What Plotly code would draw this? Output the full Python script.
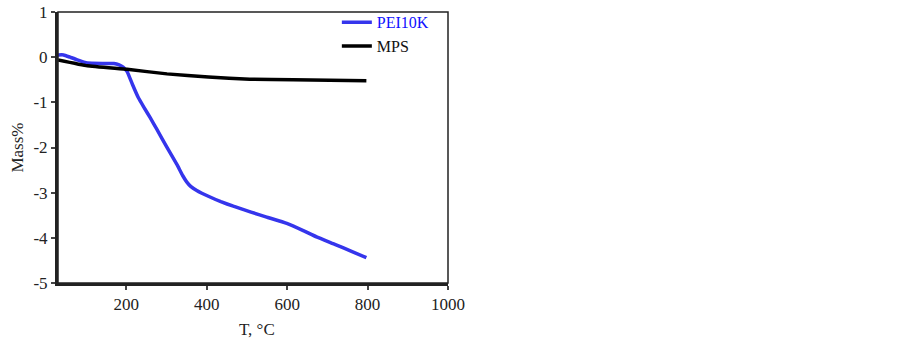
import plotly.graph_objects as go

# Data
pei_T = [30, 44, 60, 78, 103, 140, 169, 182, 192, 202, 215, 230, 243, 260, 276, 300, 326, 340, 350,
         360, 375, 404, 435, 466, 510, 549, 599, 640, 673, 720, 760, 797]
pei_mass = [0.05, 0.05, 0.0, -0.06, -0.13, -0.14, -0.14, -0.17, -0.22, -0.32, -0.6, -0.9, -1.1, -1.35,
            -1.6, -1.98, -2.38, -2.62, -2.76, -2.86, -2.95, -3.08, -3.2, -3.3, -3.43, -3.54, -3.68,
            -3.84, -3.98, -4.15, -4.3, -4.44]
mps_T = [30, 103, 202, 301, 404, 507, 615, 797]
mps_mass = [-0.06, -0.19, -0.27, -0.37, -0.44, -0.49, -0.5, -0.52]

x_ticks = [200, 400, 600, 800, 1000]
y_ticks = [1, 0, -1, -2, -3, -4, -5]
y_tick_text = ["1", "0", "-1", "-2", "-3", "-4", "-5"]

FONT = "Liberation Serif, Times New Roman, serif"

fig = go.Figure()
fig.add_trace(go.Scatter(x=pei_T, y=pei_mass, mode="lines",
                         name='<span style="color:#1010ff">PEI10K</span>',
                         line=dict(color="#3535ec", width=3.5, shape="spline", smoothing=0.3)))
fig.add_trace(go.Scatter(x=mps_T, y=mps_mass, mode="lines", name="MPS",
                         line=dict(color="#000000", width=3.5, shape="spline", smoothing=0.3)))

fig.update_layout(
    width=902, height=343,
    margin=dict(l=58, r=454, t=12, b=60, autoexpand=False),
    paper_bgcolor="white", plot_bgcolor="white",
    font=dict(family=FONT, size=17, color="#222"),
    showlegend=True,
    legend=dict(x=0.715, y=1.025, xanchor="left", yanchor="top",
                bgcolor="rgba(0,0,0,0)", font=dict(family=FONT, size=16, color="#111"),
                itemwidth=30, tracegroupgap=0),
    xaxis=dict(range=[30, 1000], tickvals=x_ticks, ticks="outside", ticklen=4,
               tickwidth=1.5, showline=True, linewidth=3, linecolor="#222",
               showgrid=False, zeroline=False, automargin=False),
    yaxis=dict(range=[-5, 1], tickvals=y_ticks, ticktext=y_tick_text, ticks="outside",
               ticklen=4, tickwidth=1.5, showline=True, linewidth=3, linecolor="#222",
               showgrid=False, zeroline=False, automargin=False),
    shapes=[dict(type="rect", xref="paper", yref="paper", x0=0, y0=0, x1=1, y1=1,
                 line=dict(color="#222", width=1.5))],
    annotations=[
        dict(text="T, °C", xref="paper", yref="paper", x=0.51, y=-0.17,
             xanchor="center", yanchor="middle", showarrow=False, font=dict(size=17)),
        dict(text="Mass%", xref="paper", yref="paper", x=-0.105, y=0.5, textangle=-90,
             xanchor="center", yanchor="middle", showarrow=False, font=dict(size=17)),
    ],
)

fig.write_html("out.html", config={"displayModeBar": False},
               post_script="document.body.style.margin='0';document.body.style.overflow='hidden';")
